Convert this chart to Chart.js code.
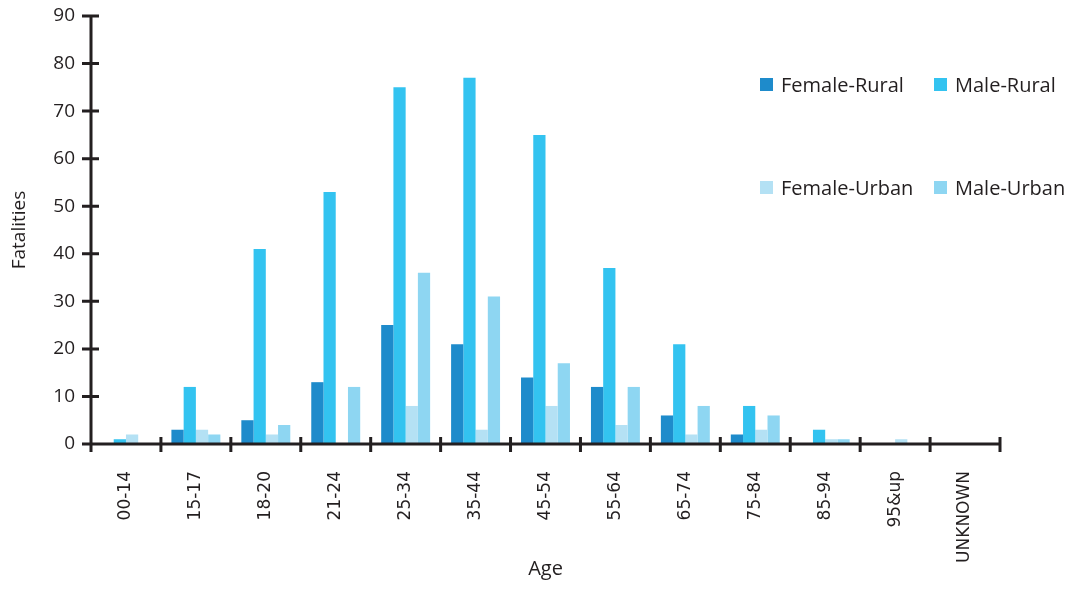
<!DOCTYPE html>
<html lang="en">
<head>
<meta charset="UTF-8">
<title>Fatalities by Age</title>
<script src="https://cdn.jsdelivr.net/npm/chart.js"></script>
<style>
    body { margin: 0; background: #fff; }
    #wrap { position: relative; width: 1069px; height: 592px; }
    .leg { position: absolute; display: flex; align-items: center; font-family: "Open Sans", sans-serif; font-size: 20px; color: #231f20; }
    .leg span.box { width: 13px; height: 13px; margin-right: 8px; display: inline-block; }
</style>
</head>
<body>
<div id="wrap">
    <canvas id="ageChart" width="1069" height="592"></canvas>
</div>
<script>
    // age groups on the x axis
    const ageGroups = ['00-14', '15-17', '18-20', '21-24', '25-34', '35-44', '45-54', '55-64', '65-74', '75-84', '85-94', '95&up', 'UNKNOWN'];

    // fatalities per group
    const femaleRural = [0, 3, 5, 13, 25, 21, 14, 12, 6, 2, 0, 0, 0];
    const maleRural   = [1, 12, 41, 53, 75, 77, 65, 37, 21, 8, 3, 0, 0];
    const femaleUrban = [2, 3, 2, 0, 8, 3, 8, 4, 2, 3, 1, 1, 0];
    const maleUrban   = [0, 2, 4, 12, 36, 31, 17, 12, 8, 6, 1, 0, 0];

    const seriesNames = ['Female-Rural', 'Male-Rural', 'Female-Urban', 'Male-Urban'];
    const seriesColors = ['#1E8BCB', '#33C3F0', '#B4E1F4', '#8ED6F2'];
    const yTicks = { min: 0, max: 90, step: 10 };

    const axisColor = '#231f20';
    const textColor = '#231f20';

    // axis lines + ticks that cross the axis, drawn over the bars
    const crossAxes = {
        id: 'crossAxes',
        afterDatasetsDraw(chart) {
            const ctx = chart.ctx, x = chart.scales.x, y = chart.scales.y;
            ctx.save();
            ctx.strokeStyle = axisColor;
            ctx.lineWidth = 3;
            ctx.beginPath();
            ctx.moveTo(x.left, y.top - 1);
            ctx.lineTo(x.left, y.bottom + 8);
            ctx.moveTo(x.left, y.bottom);
            ctx.lineTo(x.right, y.bottom);
            y.ticks.forEach((t, i) => {
                const py = y.getPixelForTick(i);
                ctx.moveTo(x.left - 9, py);
                ctx.lineTo(x.left + 8, py);
            });
            const step = x.getPixelForValue(1) - x.getPixelForValue(0);
            const start = x.getPixelForValue(0) - step / 2;
            for (let i = 0; i <= ageGroups.length; i++) {
                const px = start + i * step;
                ctx.moveTo(px, y.bottom - 7);
                ctx.lineTo(px, y.bottom + 8);
            }
            ctx.stroke();
            ctx.restore();
        }
    };

    const datasets = [femaleRural, maleRural, femaleUrban, maleUrban].map((vals, i) => ({
        label: seriesNames[i],
        data: vals,
        backgroundColor: seriesColors[i],
        borderWidth: 0,
        categoryPercentage: 0.7,
        barPercentage: 1.0
    }));

    new Chart(document.getElementById('ageChart'), {
        type: 'bar',
        data: { labels: ageGroups, datasets: datasets },
        plugins: [crossAxes],
        options: {
            responsive: false,
            animation: false,
            layout: { padding: { left: 0, top: 16, right: 69, bottom: 0 } },
            plugins: {
                legend: { display: false },
                tooltip: { enabled: false }
            },
            scales: {
                x: {
                    afterFit: s => { s.height = 148; s.paddingTop = 0; s.paddingBottom = 0; },
                    grid: { display: false, drawTicks: false },
                    border: { display: false },
                    ticks: {
                        color: textColor,
                        font: { family: 'DejaVu Sans', size: 17 },
                        minRotation: 90,
                        maxRotation: 90,
                        autoSkip: false,
                        padding: 27
                    },
                    title: {
                        display: true,
                        text: 'Age',
                        color: textColor,
                        font: { family: 'Open Sans', size: 20 },
                        padding: { top: 0, bottom: 11 }
                    }
                },
                y: {
                    min: yTicks.min,
                    max: yTicks.max,
                    afterFit: s => { s.width = 91; s.paddingTop = 0; s.paddingBottom = 0; },
                    grid: { display: false, drawTicks: false },
                    border: { display: false },
                    ticks: {
                        stepSize: yTicks.step,
                        color: textColor,
                        font: { family: 'Open Sans', size: 19 },
                        padding: 16
                    },
                    title: {
                        display: true,
                        text: 'Fatalities',
                        color: textColor,
                        font: { family: 'Open Sans', size: 19 },
                        padding: { top: 8, bottom: 0 }
                    }
                }
            }
        }
    });

    // 2x2 legend inside the plot, built from the series arrays
    const legendSpots = [[760, 84], [934, 84], [760, 187], [934, 187]];
    const wrap = document.getElementById('wrap');
    seriesNames.forEach((name, i) => {
        const item = document.createElement('div');
        item.className = 'leg';
        item.style.left = legendSpots[i][0] + 'px';
        item.style.top = (legendSpots[i][1] - 13) + 'px';
        item.style.height = '26px';
        item.innerHTML = '<span class="box" style="background:' + seriesColors[i] + '"></span>' + name;
        wrap.appendChild(item);
    });
</script>
</body>
</html>
